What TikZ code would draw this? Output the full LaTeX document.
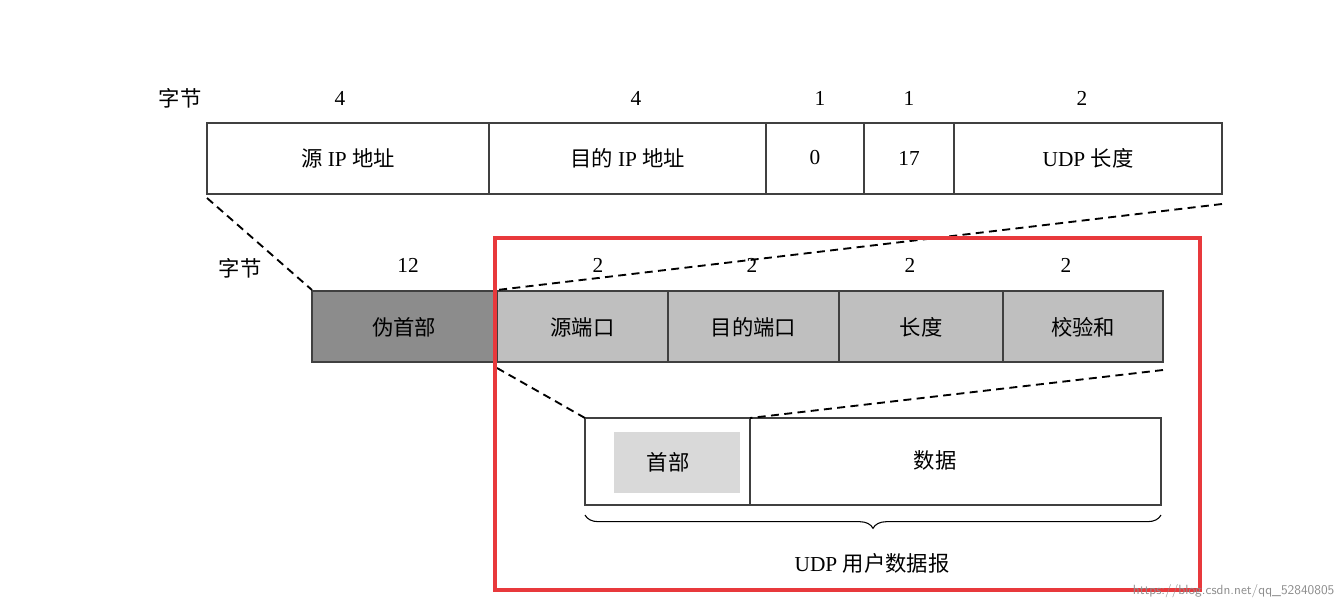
\documentclass[tikz,border=0pt]{standalone}
\usepackage{fontspec}
\setmainfont{Liberation Serif}
\newfontfamily\cjk{Noto Sans CJK SC}
\usetikzlibrary{decorations.pathreplacing}
\definecolor{dk}{HTML}{8C8C8C}
\definecolor{md}{HTML}{BFBFBF}
\definecolor{lt}{HTML}{D9D9D9}
\definecolor{rd}{HTML}{E8393C}
\newcommand{\zh}[1]{{\cjk #1}}
\tikzset{
  cell/.style={draw=black!75,line width=0.8pt},
  lbl/.style={font=\fontsize{16}{18}\selectfont},
  num/.style={font=\fontsize{16}{18}\selectfont},
  dsh/.style={dashed,line width=1.4pt,dash pattern=on 6pt off 4pt}
}
\begin{document}
\begin{tikzpicture}[x=0.75pt,y=-0.75pt]
\useasboundingbox (0,0) rectangle (1342,608);
% top row
\foreach \a/\b/\t [count=\i] in {207/489/{\zh{源} IP \zh{地址}},489/766/{\zh{目的} IP \zh{地址}},766/864/0,864/954/17,954/1222/{UDP \zh{长度}}}{
  \draw[cell] (\a,123) rectangle (\b,194);
  \node[lbl] (t\i) at ({(\a+\b)/2},158) {\t};
}
\node[lbl] (zj1) at (180,98) {\zh{字节}};
\node[num] (n1) at (340,98) {4};
\node[num] (n2) at (636,98) {4};
\node[num] (n3) at (820,98) {1};
\node[num] (n4) at (909,98) {1};
\node[num] (n5) at (1082,98) {2};
% second row
\draw[cell,fill=dk] (312,291) rectangle (497,362);
\node[lbl] (p) at (404,327) {\zh{伪首部}};
\foreach \a/\b/\t [count=\i] in {497/668/源端口,668/839/目的端口,839/1003/长度,1003/1163/校验和}{
  \draw[cell,fill=md] (\a,291) rectangle (\b,362);
  \node[lbl] (s\i) at ({(\a+\b)/2},327) {\zh{\t}};
}
\node[lbl] (zj2) at (240,268) {\zh{字节}};
\node[num] (m0) at (408,265) {12};
\node[num] (m1) at (598,265) {2};
\node[num] (m2) at (752,265) {2};
\node[num] (m3) at (910,265) {2};
\node[num] (m4) at (1066,265) {2};
% third row
\draw[cell] (585,418) rectangle (1161,505);
\draw[cell] (750,418) -- (750,505);
\fill[lt] (614,432) rectangle (740,493);
\node[lbl] (hd) at (668,462) {\zh{首部}};
\node[lbl] (dt) at (935,460) {\zh{数据}};
% dashed connectors
\coordinate (a1) at (207,198); \coordinate (a2) at (312,290);
\coordinate (b1) at (1222,204); \coordinate (b2) at (497,290);
\coordinate (c1) at (497,368); \coordinate (c2) at (585,418);
\coordinate (d1) at (1163,370); \coordinate (d2) at (750,418);
\draw[dsh] (a1) -- (a2);
\draw[dsh] (b1) -- (b2);
\draw[dsh] (c1) -- (c2);
\draw[dsh] (d1) -- (d2);
% brace
\draw[line width=0.8pt,decorate,decoration={brace,mirror,amplitude=10pt}] (585,515) -- (1161,515);
\node[lbl] (udp) at (872,563) {UDP \zh{用户数据报}};
% red frame
\draw[rd,line width=2.4pt] (495,238) rectangle (1200,590);
\node[font=\fontsize{10}{12}\selectfont\sffamily,text=black!45,anchor=east,inner sep=1pt] (wm) at (1336,591) {https://blog.csdn.net/qq\_52840805};
\end{tikzpicture}
\end{document}
